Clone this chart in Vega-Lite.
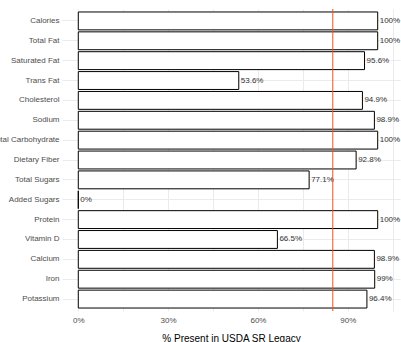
{
  "$schema": "https://vega.github.io/schema/vega-lite/v6.json",
  "autosize": "none",
  "width": 338,
  "height": 302,
  "padding": {"left": 62, "top": 9, "right": 1, "bottom": 31},
  "background": "white",
  "config": {
    "view": {"stroke": null},
    "font": "Liberation Sans"
  },
  "data": {
    "values": [
      {"nutrient": "Calories", "pct": 100, "label": "100%"},
      {"nutrient": "Total Fat", "pct": 100, "label": "100%"},
      {"nutrient": "Saturated Fat", "pct": 95.6, "label": "95.6%"},
      {"nutrient": "Trans Fat", "pct": 53.6, "label": "53.6%"},
      {"nutrient": "Cholesterol", "pct": 94.9, "label": "94.9%"},
      {"nutrient": "Sodium", "pct": 98.9, "label": "98.9%"},
      {"nutrient": "Total Carbohydrate", "pct": 100, "label": "100%"},
      {"nutrient": "Dietary Fiber", "pct": 92.8, "label": "92.8%"},
      {"nutrient": "Total Sugars", "pct": 77.1, "label": "77.1%"},
      {"nutrient": "Added Sugars", "pct": 0, "label": "0%"},
      {"nutrient": "Protein", "pct": 100, "label": "100%"},
      {"nutrient": "Vitamin D", "pct": 66.5, "label": "66.5%"},
      {"nutrient": "Calcium", "pct": 98.9, "label": "98.9%"},
      {"nutrient": "Iron", "pct": 99, "label": "99%"},
      {"nutrient": "Potassium", "pct": 96.4, "label": "96.4%"}
    ]
  },
  "layer": [
    {
      "mark": {"type": "bar", "fill": "white", "stroke": "black", "strokeWidth": 1},
      "encoding": {
        "y": {
          "field": "nutrient",
          "type": "nominal",
          "sort": null,
          "scale": {"paddingInner": 0.1, "paddingOuter": 0.15},
          "axis": {
            "title": null,
            "domain": false,
            "ticks": false,
            "grid": true,
            "gridColor": "#ebebeb",
            "gridWidth": 1,
            "labelFontSize": 8,
            "labelColor": "#4d4d4d",
            "labelPadding": 3,
            "labelLimit": 0
          }
        },
        "x": {
          "field": "pct",
          "type": "quantitative",
          "scale": {"domain": [-5.44, 107.45], "nice": false, "zero": false},
          "axis": {
            "values": [0, 15, 30, 45, 60, 75, 90, 105],
            "labelExpr": "datum.value % 30 == 0 ? datum.value + '%' : ''",
            "domain": false,
            "ticks": false,
            "grid": true,
            "gridColor": "#ebebeb",
            "labelFontSize": 8,
            "labelColor": "#4d4d4d",
            "labelPadding": 5,
            "title": "% Present in USDA SR Legacy",
            "titleFontSize": 10,
            "titleFontWeight": "normal",
            "titleColor": "#000000",
            "titlePadding": 9
          }
        }
      }
    },
    {
      "mark": {"type": "text", "align": "left", "dx": 2, "fontSize": 8, "color": "#333333"},
      "encoding": {
        "y": {"field": "nutrient", "type": "nominal", "sort": null},
        "x": {"field": "pct", "type": "quantitative"},
        "text": {"field": "label", "type": "nominal"}
      }
    },
    {
      "data": {"values": [{"threshold": 85}]},
      "mark": {"type": "rule", "color": "#f5501e", "strokeWidth": 1},
      "encoding": {
        "x": {"field": "threshold", "type": "quantitative"}
      }
    }
  ]
}
